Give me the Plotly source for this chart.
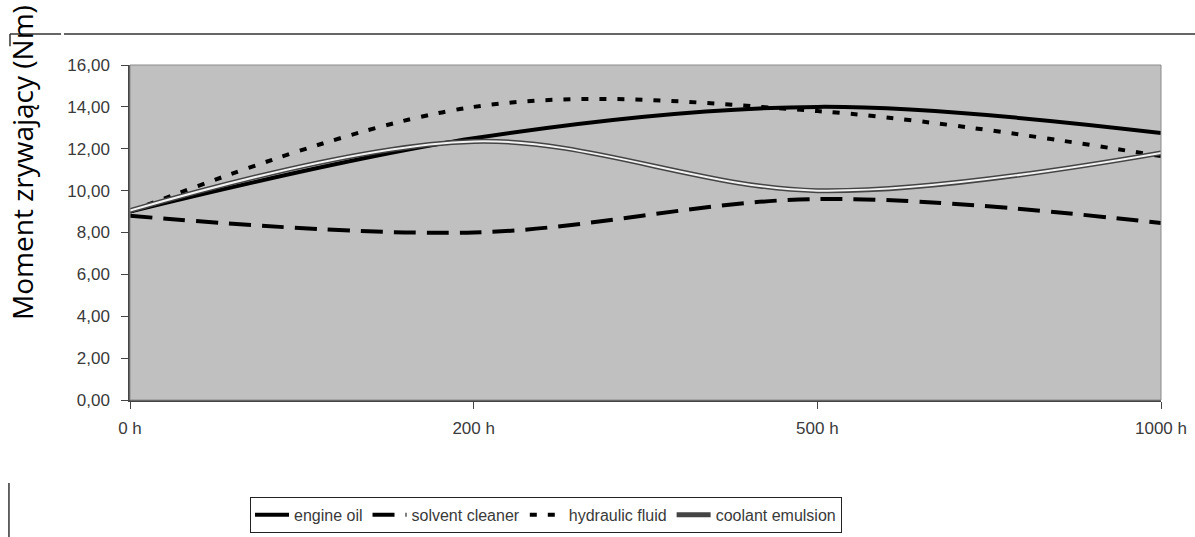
import plotly.graph_objects as go

categories = ["0 h", "200 h", "500 h", "1000 h"]
engine_oil = [9.0, 12.5, 14.0, 12.75]
solvent_cleaner = [8.8, 8.0, 9.6, 8.45]
hydraulic_fluid = [9.0, 14.0, 13.8, 11.65]
coolant_emulsion = [9.05, 12.35, 10.0, 11.8]
y_ticks = [0, 2, 4, 6, 8, 10, 12, 14, 16]
y_tick_labels = ["0,00", "2,00", "4,00", "6,00", "8,00", "10,00", "12,00", "14,00", "16,00"]

xpos = list(range(len(categories)))
fig = go.Figure()
fig.add_trace(go.Scatter(x=xpos, y=engine_oil, name="engine oil", mode="lines",
                         line=dict(color="black", width=4, shape="spline", smoothing=1)))
fig.add_trace(go.Scatter(x=xpos, y=solvent_cleaner, name="solvent cleaner", mode="lines",
                         line=dict(color="black", width=4, shape="spline", smoothing=1, dash="22px,11px")))
fig.add_trace(go.Scatter(x=xpos, y=hydraulic_fluid, name="hydraulic fluid", mode="lines",
                         line=dict(color="black", width=4, shape="spline", smoothing=1, dash="7px,11px")))
fig.add_trace(go.Scatter(x=xpos, y=coolant_emulsion, name="coolant emulsion", mode="lines",
                         legendgroup="ce",
                         line=dict(color="#444444", width=5, shape="spline", smoothing=1)))
fig.add_trace(go.Scatter(x=xpos, y=coolant_emulsion, name="coolant emulsion", mode="lines",
                         legendgroup="ce", showlegend=False,
                         line=dict(color="#f2f2f2", width=2, shape="spline", smoothing=1)))

font = "Liberation Sans, Arial, sans-serif"
txt = "#3a3a3a"
fig.update_layout(
    width=1195, height=537,
    margin=dict(l=130, r=34, t=65, b=137, autoexpand=False),
    paper_bgcolor="white", plot_bgcolor="#c0c0c0",
    font=dict(family=font, size=17, color=txt),
    showlegend=True,
    legend=dict(orientation="h", x=0.4035, y=-0.343, xanchor="center", yanchor="middle",
                bordercolor="#222222", borderwidth=1, bgcolor="white",
                font=dict(family=font, size=16, color=txt),
                itemwidth=34, tracegroupgap=0),
    xaxis=dict(range=[0, 3], tickvals=xpos, ticktext=categories, showgrid=False, zeroline=False,
               showline=True, linecolor="#444444", linewidth=1.5, ticks="outside", ticklen=7,
               tickcolor="#444444", ticklabelstandoff=5, automargin=False,
               tickfont=dict(family=font, size=17, color=txt)),
    yaxis=dict(range=[0, 16], tickvals=y_ticks, ticktext=y_tick_labels, showgrid=False, zeroline=False,
               showline=True, linecolor="#444444", linewidth=1.5, ticks="outside", ticklen=7,
               tickcolor="#444444", ticklabelstandoff=8, automargin=False,
               tickfont=dict(family=font, size=17, color=txt)),
    shapes=[
        dict(type="rect", xref="paper", yref="paper", x0=0, x1=1, y0=0, y1=1,
             line=dict(color="#8a8a8a", width=1), layer="above"),
        dict(type="line", xref="paper", yref="paper", x0=-0.1164, x1=-0.0669, y0=1.0925, y1=1.0925,
             line=dict(color="#333333", width=1.5)),
        dict(type="line", xref="paper", yref="paper", x0=-0.0640, x1=1.04, y0=1.0925, y1=1.0925,
             line=dict(color="#333333", width=1.5)),
        dict(type="line", xref="paper", yref="paper", x0=-0.1164, x1=-0.1164, y0=1.0925, y1=1.056,
             line=dict(color="#333333", width=1.5)),
        dict(type="line", xref="paper", yref="paper", x0=-0.1174, x1=-0.1174, y0=-0.248, y1=-0.41,
             line=dict(color="#333333", width=1.5)),
    ],
    annotations=[
        dict(text="Moment zrywający (Nm)", xref="paper", yref="paper", x=-0.1043, y=0.709,
             textangle=-90, showarrow=False, xanchor="center", yanchor="middle",
             font=dict(family="Open Sans, sans-serif", size=28, color="black")),
    ],
)
fig.write_html("out.html", config={"displayModeBar": False},
               post_script="document.documentElement.style.margin='0';document.body.style.margin='0';"
                           "document.body.style.overflow='hidden';")
